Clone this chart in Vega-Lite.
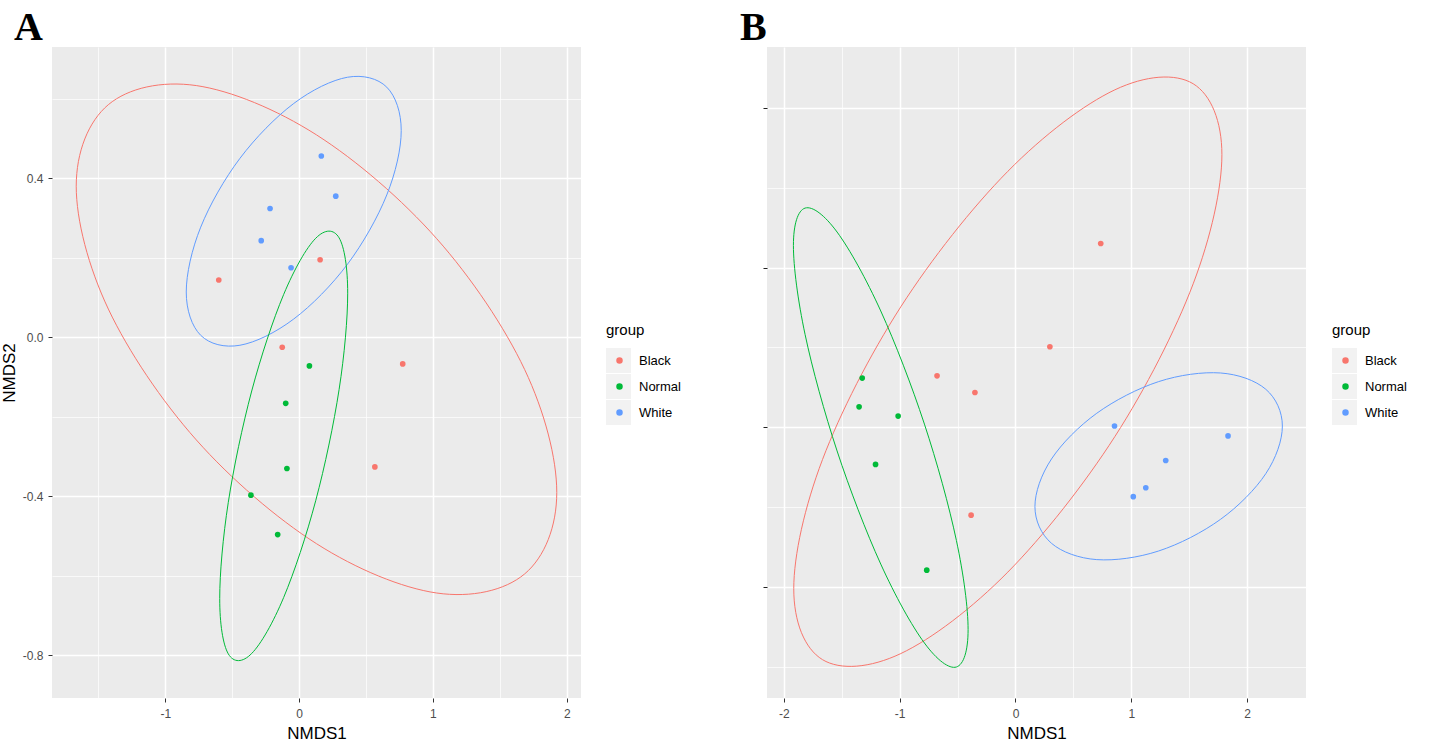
{
  "$schema": "https://vega.github.io/schema/vega-lite/v6.json",
  "background": "white",
  "padding": {"left": 0, "top": 8, "right": 0, "bottom": 0},
  "datasets": {
    "ptsA": [
      {"group": "Black", "x": -0.6, "y": 0.144},
      {"group": "Black", "x": 0.157, "y": 0.195},
      {"group": "Black", "x": -0.126, "y": -0.025},
      {"group": "Black", "x": 0.774, "y": -0.067},
      {"group": "Black", "x": 0.566, "y": -0.326},
      {"group": "Normal", "x": 0.077, "y": -0.072},
      {"group": "Normal", "x": -0.1, "y": -0.166},
      {"group": "Normal", "x": -0.091, "y": -0.33},
      {"group": "Normal", "x": -0.36, "y": -0.397},
      {"group": "Normal", "x": -0.16, "y": -0.496},
      {"group": "White", "x": 0.166, "y": 0.456},
      {"group": "White", "x": 0.274, "y": 0.355},
      {"group": "White", "x": -0.217, "y": 0.324},
      {"group": "White", "x": -0.283, "y": 0.243},
      {"group": "White", "x": -0.06, "y": 0.175}
    ],
    "ellA": [
      {"group": "Black", "i": 0, "x": 1.925, "y": -0.39},
      {"group": "Black", "i": 1, "x": 1.685, "y": -0.081},
      {"group": "Black", "i": 2, "x": 1.028, "y": 0.248},
      {"group": "Black", "i": 3, "x": 0.13, "y": 0.509},
      {"group": "Black", "i": 4, "x": -0.768, "y": 0.633},
      {"group": "Black", "i": 5, "x": -1.425, "y": 0.585},
      {"group": "Black", "i": 6, "x": -1.665, "y": 0.38},
      {"group": "Black", "i": 7, "x": -1.425, "y": 0.071},
      {"group": "Black", "i": 8, "x": -0.768, "y": -0.258},
      {"group": "Black", "i": 9, "x": 0.13, "y": -0.519},
      {"group": "Black", "i": 10, "x": 1.028, "y": -0.643},
      {"group": "Black", "i": 11, "x": 1.685, "y": -0.595},
      {"group": "White", "i": 0, "x": 0.763, "y": 0.52},
      {"group": "White", "i": 1, "x": 0.655, "y": 0.629},
      {"group": "White", "i": 2, "x": 0.362, "y": 0.654},
      {"group": "White", "i": 3, "x": -0.04, "y": 0.588},
      {"group": "White", "i": 4, "x": -0.442, "y": 0.45},
      {"group": "White", "i": 5, "x": -0.735, "y": 0.277},
      {"group": "White", "i": 6, "x": -0.843, "y": 0.114},
      {"group": "White", "i": 7, "x": -0.735, "y": 0.005},
      {"group": "White", "i": 8, "x": -0.442, "y": -0.02},
      {"group": "White", "i": 9, "x": -0.04, "y": 0.046},
      {"group": "White", "i": 10, "x": 0.362, "y": 0.184},
      {"group": "White", "i": 11, "x": 0.655, "y": 0.358},
      {"group": "Normal", "i": 0, "x": 0.363, "y": 0.111},
      {"group": "Normal", "i": 1, "x": 0.299, "y": 0.25},
      {"group": "Normal", "i": 2, "x": 0.124, "y": 0.249},
      {"group": "Normal", "i": 3, "x": -0.115, "y": 0.108},
      {"group": "Normal", "i": 4, "x": -0.354, "y": -0.135},
      {"group": "Normal", "i": 5, "x": -0.529, "y": -0.415},
      {"group": "Normal", "i": 6, "x": -0.593, "y": -0.657},
      {"group": "Normal", "i": 7, "x": -0.529, "y": -0.796},
      {"group": "Normal", "i": 8, "x": -0.354, "y": -0.795},
      {"group": "Normal", "i": 9, "x": -0.115, "y": -0.654},
      {"group": "Normal", "i": 10, "x": 0.124, "y": -0.411},
      {"group": "Normal", "i": 11, "x": 0.299, "y": -0.131}
    ],
    "ptsB": [
      {"group": "Black", "x": 0.736, "y": 0.575},
      {"group": "Black", "x": 0.297, "y": 0.252},
      {"group": "Black", "x": -0.677, "y": 0.161},
      {"group": "Black", "x": -0.35, "y": 0.109},
      {"group": "Black", "x": -0.383, "y": -0.275},
      {"group": "Normal", "x": -1.323, "y": 0.154},
      {"group": "Normal", "x": -1.35, "y": 0.064},
      {"group": "Normal", "x": -1.013, "y": 0.035},
      {"group": "Normal", "x": -1.208, "y": -0.116},
      {"group": "Normal", "x": -0.766, "y": -0.447},
      {"group": "White", "x": 0.855, "y": 0.004},
      {"group": "White", "x": 1.835, "y": -0.027},
      {"group": "White", "x": 1.297, "y": -0.104},
      {"group": "White", "x": 1.125, "y": -0.189},
      {"group": "White", "x": 1.017, "y": -0.217}
    ],
    "ellB": [
      {"group": "Black", "i": 0, "x": 1.782, "y": 0.853},
      {"group": "Black", "i": 1, "x": 1.534, "y": 1.075},
      {"group": "Black", "i": 2, "x": 0.858, "y": 1.056},
      {"group": "Black", "i": 3, "x": -0.066, "y": 0.801},
      {"group": "Black", "i": 4, "x": -0.99, "y": 0.377},
      {"group": "Black", "i": 5, "x": -1.666, "y": -0.101},
      {"group": "Black", "i": 6, "x": -1.914, "y": -0.505},
      {"group": "Black", "i": 7, "x": -1.666, "y": -0.727},
      {"group": "Black", "i": 8, "x": -0.99, "y": -0.708},
      {"group": "Black", "i": 9, "x": -0.066, "y": -0.453},
      {"group": "Black", "i": 10, "x": 0.858, "y": -0.029},
      {"group": "Black", "i": 11, "x": 1.534, "y": 0.449},
      {"group": "Normal", "i": 0, "x": -0.409, "y": -0.633},
      {"group": "Normal", "i": 1, "x": -0.51, "y": -0.354},
      {"group": "Normal", "i": 2, "x": -0.786, "y": 0.01},
      {"group": "Normal", "i": 3, "x": -1.163, "y": 0.364},
      {"group": "Normal", "i": 4, "x": -1.54, "y": 0.611},
      {"group": "Normal", "i": 5, "x": -1.816, "y": 0.686},
      {"group": "Normal", "i": 6, "x": -1.917, "y": 0.569},
      {"group": "Normal", "i": 7, "x": -1.816, "y": 0.29},
      {"group": "Normal", "i": 8, "x": -1.54, "y": -0.074},
      {"group": "Normal", "i": 9, "x": -1.163, "y": -0.428},
      {"group": "Normal", "i": 10, "x": -0.786, "y": -0.675},
      {"group": "Normal", "i": 11, "x": -0.51, "y": -0.75},
      {"group": "White", "i": 0, "x": 2.304, "y": 0.004},
      {"group": "White", "i": 1, "x": 2.161, "y": 0.119},
      {"group": "White", "i": 2, "x": 1.77, "y": 0.17},
      {"group": "White", "i": 3, "x": 1.236, "y": 0.143},
      {"group": "White", "i": 4, "x": 0.702, "y": 0.044},
      {"group": "White", "i": 5, "x": 0.311, "y": -0.099},
      {"group": "White", "i": 6, "x": 0.168, "y": -0.248},
      {"group": "White", "i": 7, "x": 0.311, "y": -0.363},
      {"group": "White", "i": 8, "x": 0.702, "y": -0.414},
      {"group": "White", "i": 9, "x": 1.236, "y": -0.387},
      {"group": "White", "i": 10, "x": 1.77, "y": -0.288},
      {"group": "White", "i": 11, "x": 2.161, "y": -0.145}
    ]
  },
  "config": {
    "font": "Liberation Sans",
    "view": {"fill": "#EBEBEB", "stroke": null},
    "axis": {
      "domain": false,
      "tickColor": "#333333",
      "tickSize": 4,
      "tickWidth": 1,
      "labelColor": "#4D4D4D",
      "labelFont": "Liberation Sans",
      "labelFontSize": 12,
      "titleFont": "Liberation Sans",
      "titleFontSize": 17,
      "titleFontWeight": "normal",
      "titleColor": "#000000",
      "gridColor": "#FFFFFF"
    },
    "axisX": {"labelPadding": 6, "titlePadding": 6},
    "axisY": {"labelPadding": 5, "titlePadding": 4},
    "legend": {
      "titleFont": "Liberation Sans",
      "titleFontSize": 15,
      "titleFontWeight": "normal",
      "titleColor": "#000000",
      "labelFont": "Liberation Sans",
      "labelFontSize": 13,
      "labelColor": "#000000"
    }
  },
  "resolve": {"scale": {"color": "independent", "shape": "independent"}},
  "spacing": 59,
  "hconcat": [
    {
      "title": {"text": "A", "anchor": "start", "frame": "group", "dx": -38, "offset": -33, "baseline": "alphabetic", "font": "Liberation Serif", "fontSize": 40, "fontWeight": "bold", "color": "#000000"},
      "width": 529,
      "height": 651,
      "encoding": {
        "x": {"field": "x", "type": "quantitative", "scale": {"domain": [-1.846, 2.106], "nice": false, "zero": false},
          "axis": {"title": "NMDS1", "values": [-1.5, -1, -0.5, 0, 0.5, 1, 1.5, 2],
            "gridWidth": {"condition": {"test": "datum.value % 1 == 0", "value": 1.5}, "value": 0.7},
            "tickOpacity": {"condition": {"test": "datum.value % 1 == 0", "value": 1}, "value": 0},
            "labelExpr": "datum.value % 1 == 0 ? (datum.value < 0 ? '-' : '') + format(abs(datum.value), 'd') : ''"}},
        "y": {"field": "y", "type": "quantitative", "scale": {"domain": [-0.907, 0.73], "nice": false, "zero": false},
          "axis": {"title": "NMDS2", "values": [-0.8, -0.6, -0.4, -0.2, 0, 0.2, 0.4, 0.6],
            "gridWidth": {"condition": {"test": "round(datum.value*10) % 4 == 0", "value": 1.5}, "value": 0.7},
            "tickOpacity": {"condition": {"test": "round(datum.value*10) % 4 == 0", "value": 1}, "value": 0},
            "labelExpr": "round(datum.value*10) % 4 == 0 ? (datum.value < 0 ? '-' : '') + format(abs(datum.value), '.1f') : ''"}},
        "color": {"field": "group", "type": "nominal", "scale": {"domain": ["Black", "Normal", "White"], "range": ["#F8766D", "#00BA38", "#619CFF"]},
          "legend": {"title": "group", "orient": "none", "legendX": 554, "legendY": 276, "symbolType": "circle", "symbolSize": 25, "symbolOffset": 7, "labelOffset": 13, "clipHeight": 25, "rowPadding": 1, "titlePadding": 10, "zindex": 1}}
      },
      "layer": [
        {
          "data": {"name": "ptsA"},
          "mark": {"type": "point", "filled": true, "opacity": 0, "size": 30},
          "encoding": {
            "shape": {"field": "group", "type": "nominal", "scale": {"domain": ["White", "Normal", "Black"], "range": ["square", "square", "square"]},
              "legend": {"title": "group", "orient": "none", "legendX": 554, "legendY": 276, "symbolType": "square", "symbolSize": 625, "symbolFillColor": "#F2F2F2", "symbolStrokeWidth": 0, "symbolOpacity": 1, "titleOpacity": 0, "labelExpr": "''", "labelOpacity": 0, "clipHeight": 25, "rowPadding": 1, "titlePadding": 10, "zindex": 0}}
          }
        },
        {
          "data": {"name": "ellA"},
          "mark": {"type": "line", "interpolate": "cardinal-closed", "strokeWidth": 1},
          "encoding": {
            "order": {"field": "i", "type": "quantitative"}
          }
        },
        {
          "data": {"name": "ptsA"},
          "mark": {"type": "circle", "size": 32, "opacity": 1}
        }
      ]
    },
    {
      "title": {"text": "B", "anchor": "start", "frame": "group", "dx": -27, "offset": -33, "baseline": "alphabetic", "font": "Liberation Serif", "fontSize": 40, "fontWeight": "bold", "color": "#000000"},
      "width": 539,
      "height": 651,
      "encoding": {
        "x": {"field": "x", "type": "quantitative", "scale": {"domain": [-2.145, 2.508], "nice": false, "zero": false},
          "axis": {"title": "NMDS1", "values": [-2, -1.5, -1, -0.5, 0, 0.5, 1, 1.5, 2],
            "gridWidth": {"condition": {"test": "datum.value % 1 == 0", "value": 1.5}, "value": 0.7},
            "tickOpacity": {"condition": {"test": "datum.value % 1 == 0", "value": 1}, "value": 0},
            "labelExpr": "datum.value % 1 == 0 ? (datum.value < 0 ? '-' : '') + format(abs(datum.value), 'd') : ''"}},
        "y": {"field": "y", "type": "quantitative", "scale": {"domain": [-0.847, 1.19], "nice": false, "zero": false},
          "axis": {"title": null, "labels": false, "tickColor": "#222222", "values": [-0.75, -0.5, -0.25, 0, 0.25, 0.5, 0.75, 1],
            "gridWidth": {"condition": {"test": "round(datum.value*4) % 2 == 0", "value": 1.5}, "value": 0.7},
            "tickOpacity": {"condition": {"test": "round(datum.value*4) % 2 == 0", "value": 1}, "value": 0}}},
        "color": {"field": "group", "type": "nominal", "scale": {"domain": ["Black", "Normal", "White"], "range": ["#F8766D", "#00BA38", "#619CFF"]},
          "legend": {"title": "group", "orient": "none", "legendX": 565, "legendY": 276, "symbolType": "circle", "symbolSize": 25, "symbolOffset": 7, "labelOffset": 13, "clipHeight": 25, "rowPadding": 1, "titlePadding": 10, "zindex": 1}}
      },
      "layer": [
        {
          "data": {"name": "ptsB"},
          "mark": {"type": "point", "filled": true, "opacity": 0, "size": 30},
          "encoding": {
            "shape": {"field": "group", "type": "nominal", "scale": {"domain": ["White", "Normal", "Black"], "range": ["square", "square", "square"]},
              "legend": {"title": "group", "orient": "none", "legendX": 565, "legendY": 276, "symbolType": "square", "symbolSize": 625, "symbolFillColor": "#F2F2F2", "symbolStrokeWidth": 0, "symbolOpacity": 1, "titleOpacity": 0, "labelExpr": "''", "labelOpacity": 0, "clipHeight": 25, "rowPadding": 1, "titlePadding": 10, "zindex": 0}}
          }
        },
        {
          "data": {"name": "ellB"},
          "mark": {"type": "line", "interpolate": "cardinal-closed", "strokeWidth": 1},
          "encoding": {
            "order": {"field": "i", "type": "quantitative"}
          }
        },
        {
          "data": {"name": "ptsB"},
          "mark": {"type": "circle", "size": 32, "opacity": 1}
        }
      ]
    }
  ]
}
